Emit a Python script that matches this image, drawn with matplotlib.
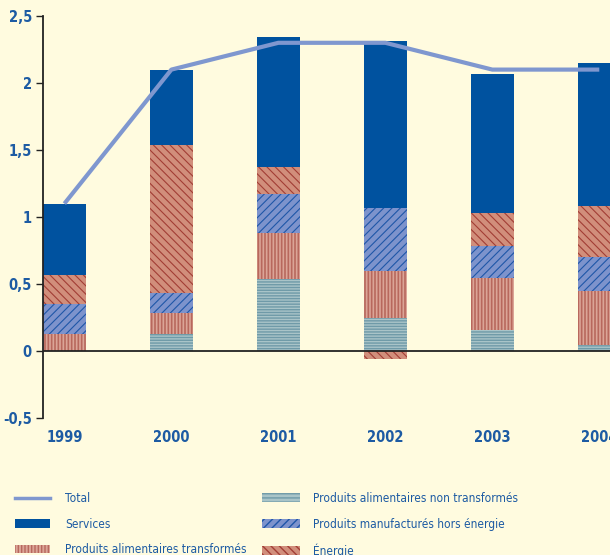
import numpy as np
import matplotlib.pyplot as plt
from matplotlib import font_manager
from matplotlib.patches import Patch
from matplotlib.lines import Line2D

years = ['1999', '2000', '2001', '2002', '2003', '2004']
alim_non_transf = [0.0, 0.13, 0.535, 0.245, 0.157, 0.045]
alim_transf = [0.127, 0.15, 0.343, 0.355, 0.388, 0.405]
manufactures = [0.223, 0.15, 0.292, 0.47, 0.235, 0.25]
energie = [0.215, 1.105, 0.205, -0.06, 0.25, 0.38]
services = [0.532, 0.562, 0.968, 1.24, 1.037, 1.069]
total = [1.1, 2.1, 2.3, 2.3, 2.1, 2.1]

bg = '#fffbdf'
txt = '#1d5ba3'
c_services = '#00529f'
c_total = '#7f97cf'

# pick a narrow font if one is there
fonts = font_manager.fontManager.ttflist
names = set(f.name for f in fonts)
stretch = 'normal'
if 'Liberation Sans Narrow' in names:
    fam = 'Liberation Sans Narrow'
elif any(f.name == 'DejaVu Sans' and f.stretch == 'condensed' for f in fonts):
    fam = 'DejaVu Sans'
    stretch = 'condensed'
elif 'Roboto Condensed' in names:
    fam = 'Roboto Condensed'
else:
    fam = 'Liberation Sans'
plt.rcParams['font.family'] = [fam, 'DejaVu Sans']
plt.rcParams['font.stretch'] = stretch

fig = plt.figure(figsize=(6.1, 5.55), dpi=100, facecolor=bg)
ax = fig.add_axes([43 / 610, 137 / 555, 1 - 43 / 610, (418 - 16) / 555])
ax.set_facecolor(bg)

x = np.arange(len(years))
w = 0.4

# styles: (face, hatch colour, hatch, hatch linewidth)
st_non = ('#a9c4c8', '#6f9aa8', '------', 1.0)
st_tr = ('#dba597', '#b8685d', '|||||', 1.2)
st_man = ('#7d93cc', '#1f56a8', '////', 0.8)
st_en = ('#d18e7b', '#a23e35', '\\\\\\\\', 0.8)

pos = np.zeros(len(years))
neg = np.zeros(len(years))


def stack(vals, face, hc, hatch, hlw, solid=False):
    global pos, neg
    vals = np.array(vals)
    bottom = np.where(vals >= 0, pos, neg)
    with plt.rc_context({'hatch.linewidth': hlw}):
        if solid:
            ax.bar(x, vals, w, bottom=bottom, color=face, linewidth=0)
        else:
            ax.bar(x, vals, w, bottom=bottom, facecolor=face, edgecolor=hc,
                   hatch=hatch, linewidth=0)
    pos = pos + np.where(vals >= 0, vals, 0)
    neg = neg + np.where(vals < 0, vals, 0)


stack(alim_non_transf, *st_non)
stack(alim_transf, *st_tr)
stack(manufactures, *st_man)
stack(energie, *st_en)
stack(services, c_services, None, None, 1.0, solid=True)

ax.plot(x, total, color=c_total, lw=3, solid_capstyle='butt', zorder=5)

ax.axhline(0, color='#222222', lw=1.3, zorder=4)

ax.set_xlim(-0.2, 5.1)
ax.set_ylim(-0.5, 2.5)
ax.set_yticks([-0.5, 0, 0.5, 1, 1.5, 2, 2.5])
ax.set_yticklabels(['-0,5', '0', '0,5', '1', '1,5', '2', '2,5'])
ax.set_xticks(x)
ax.set_xticklabels(years)

for s in ['top', 'right', 'bottom']:
    ax.spines[s].set_visible(False)
ax.spines['left'].set_color('#222222')
ax.spines['left'].set_linewidth(1.3)
ax.tick_params(axis='y', length=5, width=1, color='#222222', pad=3,
               labelsize=10.5, labelcolor=txt)
ax.tick_params(axis='x', length=0, pad=9, labelsize=10.5, labelcolor=txt)
for lab in ax.get_xticklabels() + ax.get_yticklabels():
    lab.set_fontweight('bold')


def hpatch(st, hatch=None):
    with plt.rc_context({'hatch.linewidth': st[3]}):
        return Patch(facecolor=st[0], edgecolor=st[1],
                     hatch=hatch or st[2], linewidth=0)


left_h = [Line2D([], [], color=c_total, lw=2.5),
          Patch(facecolor=c_services, linewidth=0),
          hpatch(st_tr)]
left_l = ['Total', 'Services', 'Produits alimentaires transformés']
right_h = [hpatch(st_non, '----'), hpatch(st_man), hpatch(st_en)]
right_l = ['Produits alimentaires non transformés',
           'Produits manufacturés hors énergie', 'Énergie']

fs = 8.6
kw = dict(loc='upper left', frameon=False, handleheight=0.75,
          labelspacing=1.05, fontsize=fs, borderaxespad=0, borderpad=0)
leg1 = fig.legend(left_h, left_l, bbox_to_anchor=(15 / 610, 1 - 492 / 555),
                  handlelength=2.9, handletextpad=1.3, **kw)
leg2 = fig.legend(right_h, right_l, bbox_to_anchor=(262 / 610, 1 - 492 / 555),
                  handlelength=3.2, handletextpad=1.1, **kw)
for lg in (leg1, leg2):
    for t in lg.get_texts():
        t.set_color(txt)

fig.savefig('out.png', dpi=100, facecolor=bg)
